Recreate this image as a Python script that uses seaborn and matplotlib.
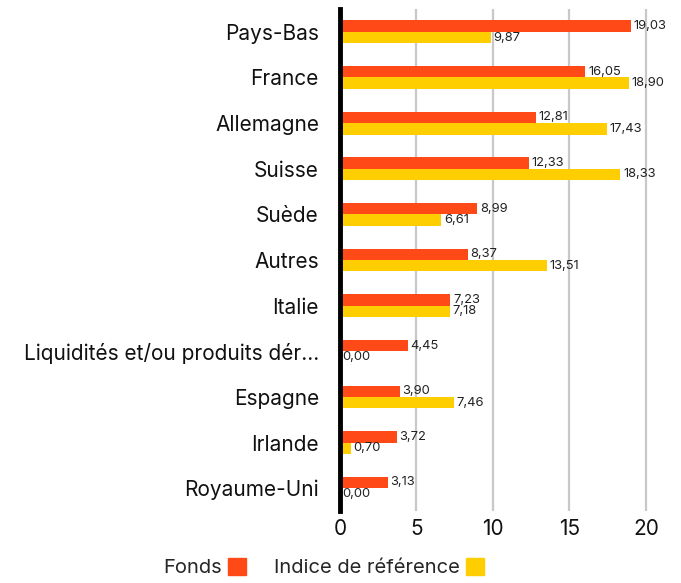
import matplotlib
matplotlib.use("Agg")
import matplotlib.pyplot as plt
import seaborn as sns
import pandas as pd
from matplotlib.patches import Patch

categories = ["Pays-Bas", "France", "Allemagne", "Suisse", "Suède", "Autres", "Italie",
              "Liquidités et/ou produits dér...", "Espagne", "Irlande", "Royaume-Uni"]
fonds = [19.03, 16.05, 12.81, 12.33, 8.99, 8.37, 7.23, 4.45, 3.90, 3.72, 3.13]
indice = [9.87, 18.90, 17.43, 18.33, 6.61, 13.51, 7.18, 0.00, 7.46, 0.70, 0.00]
series = ["Fonds", "Indice de référence"]
colors = ["#FF4A17", "#FFCE00"]

df = pd.DataFrame({
    "cat": categories * 2,
    "val": fonds + indice,
    "serie": [series[0]] * len(categories) + [series[1]] * len(categories),
})

sns.set_theme(style="white")
plt.rcParams['font.family'] = ['Inter', 'DejaVu Sans']

fig = plt.figure(figsize=(6.81, 5.83), dpi=100)
ax = fig.add_axes([0.499, 0.1235, 0.472, 0.861])
sns.barplot(data=df, x="val", y="cat", hue="serie", orient="h", palette=colors,
            width=0.5, ax=ax, legend=False, saturation=1, order=categories,
            linewidth=0, edgecolor="none")

for cont in ax.containers:
    ax.bar_label(cont, labels=[f"{v:.2f}".replace(".", ",") for v in cont.datavalues],
                 padding=2, fontsize=9.3, color="#222222")

ax.set_xlim(0, 21)
ax.set_xticks([0, 5, 10, 15, 20])
ax.set_xlabel("")
ax.set_ylabel("")
ax.xaxis.grid(True, color="#C8C8C8", linewidth=1.6)
ax.set_axisbelow(True)
for s in ["top", "right", "bottom"]:
    ax.spines[s].set_visible(False)
ax.spines["left"].set_color("black")
ax.spines["left"].set_linewidth(3.5)
ax.tick_params(axis="x", length=6, width=1.6, color="#C8C8C8", labelsize=15, pad=0, labelcolor="#111111")
ax.tick_params(axis="y", length=0, labelsize=15, pad=15, labelcolor="#111111")

handles = [Patch(color=c) for c in colors]
fig.legend(handles, series, loc="center", bbox_to_anchor=(0.475, 0.026), ncol=2,
           frameon=False, markerfirst=False, fontsize=14.5, handlelength=0.9, handleheight=0.9,
           handletextpad=0.3, columnspacing=1.4)

fig.savefig("out.png", dpi=100)
